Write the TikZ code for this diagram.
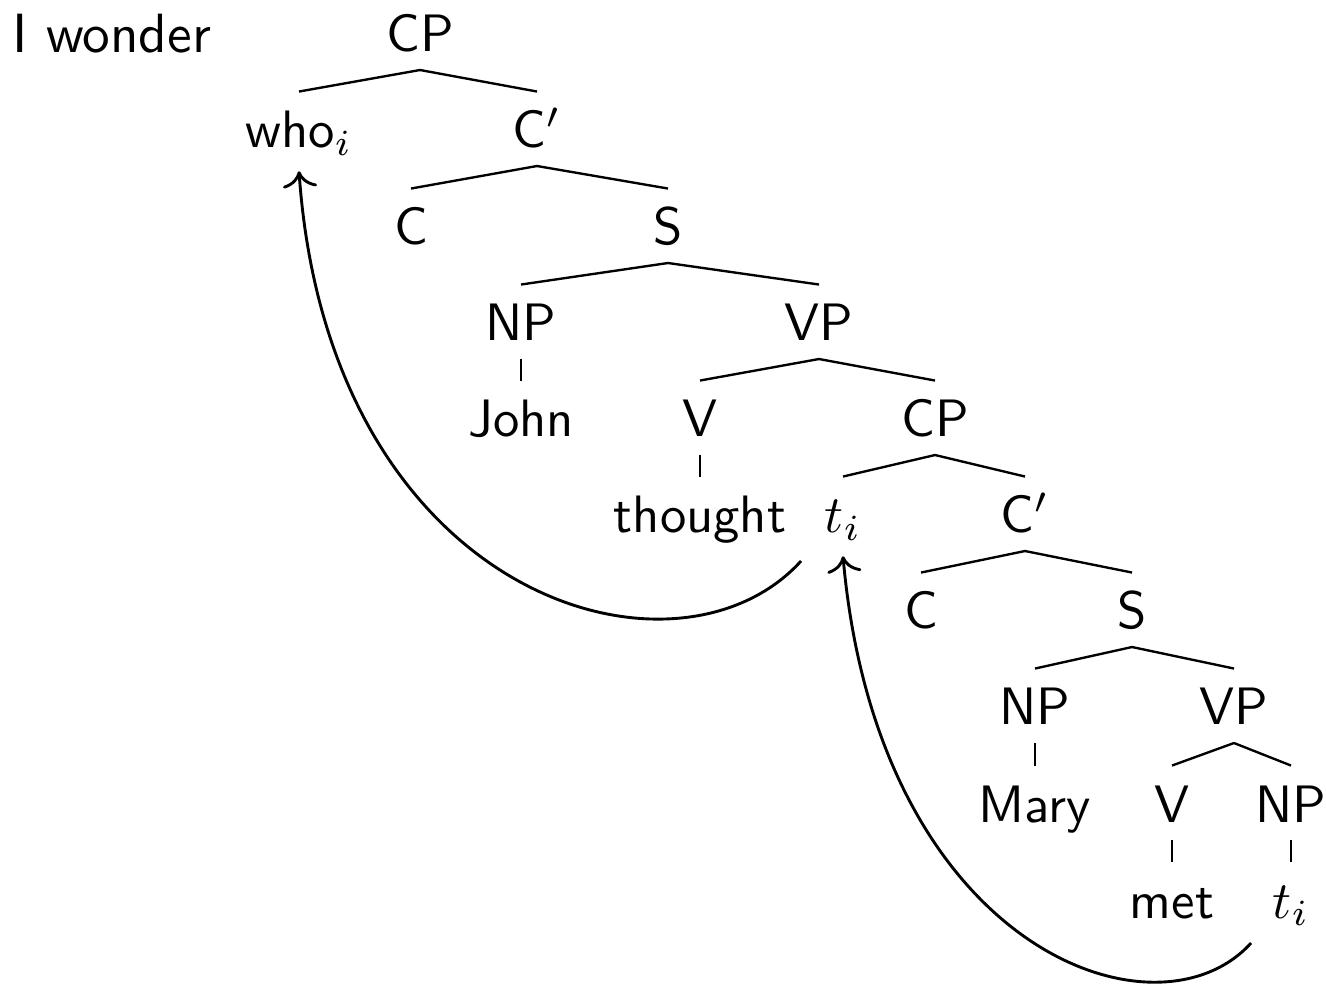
\documentclass[tikz,border=0pt]{standalone}
\usepackage{amsmath}
\usetikzlibrary{arrows.meta}

\begin{document}
\begin{tikzpicture}[x=0.19pt,y=-0.19pt,line width=0.45pt,
    cat/.style={inner sep=2pt,text height=8.5pt,text depth=1.2pt,anchor=base,
      font=\sffamily},
    move/.style={line width=0.55pt,-{To[scale=1.1]}}]
  \useasboundingbox (0,0) rectangle (1326,985);
  \node[cat,anchor=base west,font=\sffamily\fontsize{10.5}{12}\selectfont]
    (wonder) at (1,53) {I wonder};
  \node[cat] (cp) at (420,52) {CP};
  \node[cat] (who) at (299,148) {who$_i$};
  \node[cat] (cbar) at (537,148) {C$'$};
  \node[cat] (c) at (411,245) {C};
  \node[cat] (s) at (668,245) {S};
  \node[cat] (np) at (521,341) {NP};
  \node[cat] (vp) at (819,341) {VP};
  \node[cat] (john) at (521,437) {John};
  \node[cat] (v) at (700,437) {V};
  \node[cat] (cp2) at (935,437) {CP};
  \node[cat] (thought) at (700,533) {thought};
  \node[cat] (t1) at (843,533) {$t_i$};
  \node[cat] (cbar2) at (1025,533) {C$'$};
  \node[cat] (c2) at (921,629) {C};
  \node[cat] (s2) at (1132,629) {S};
  \node[cat] (np2) at (1035,725) {NP};
  \node[cat] (vp2) at (1234,725) {VP};
  \node[cat] (mary) at (1035,822) {Mary};
  \node[cat] (v2) at (1172,822) {V};
  \node[cat] (np3) at (1291,822) {NP};
  \node[cat] (met) at (1172,918) {met};
  \node[cat] (t2) at (1291,918) {$t_i$};
  % branches
  \foreach \P/\C in {cp/who,cp/cbar,cbar/c,cbar/s,s/np,s/vp,np/john,vp/v,
    vp/cp2,v/thought,cp2/t1,cp2/cbar2,cbar2/c2,cbar2/s2,s2/np2,s2/vp2,
    np2/mary,vp2/v2,vp2/np3,v2/met,np3/t2}
    \draw (\P.south) -- (\C.north);
  % movement
  \draw[move] ([shift={(-12,10)}]t1.south west) .. controls +(-125,138)
    and +(30,428) .. ([yshift=-1pt]who.south);
  \draw[move] ([shift={(-10,7)}]t2.south west) .. controls +(-95,105)
    and +(35,393) .. ([yshift=-1pt]t1.south);
\end{tikzpicture}
\end{document}
